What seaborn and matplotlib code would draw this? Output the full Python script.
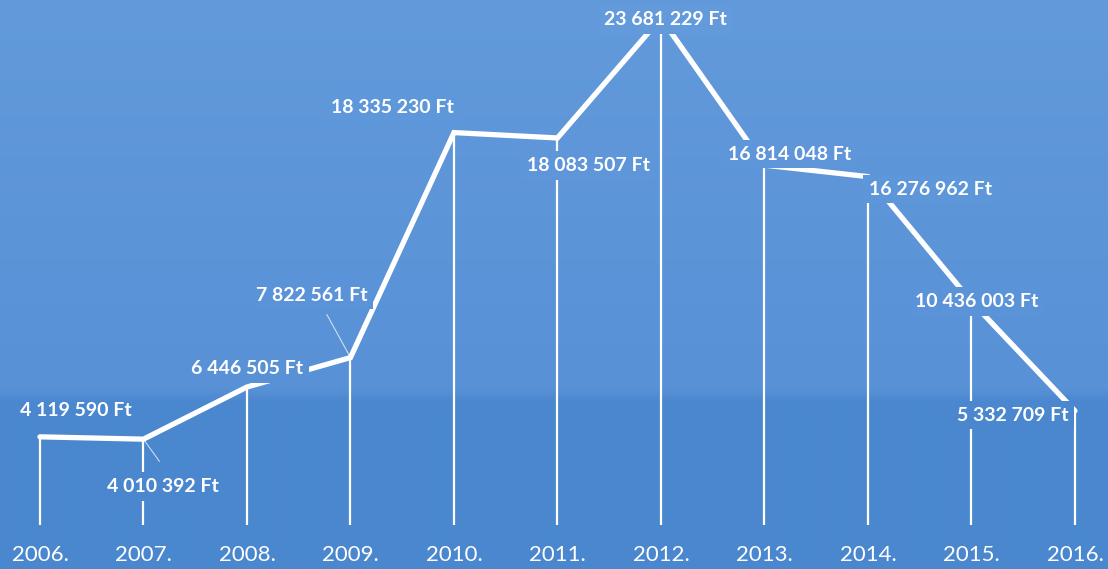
"""
Yearly amounts (Ft), 2006-2016 - white line on blue
"""

import numpy as np
import pandas as pd
import matplotlib
matplotlib.use('Agg')
import matplotlib.pyplot as plt
import seaborn as sns

# Data
years = [2006, 2007, 2008, 2009, 2010, 2011, 2012, 2013, 2014, 2015, 2016]
amounts = [4119590, 4010392, 6446505, 7822561, 18335230, 18083507,
           23681229, 16814048, 16276962, 10436003, 5332709]
year_labels = [f'{y}.' for y in years]
value_labels = [f'{v:,} Ft'.replace(',', ' ') for v in amounts]

df = pd.DataFrame({'year': years, 'amount': amounts})

sns.set_theme(style='white')
plt.rcParams['font.family'] = ['Lato', 'DejaVu Sans']

W, H = 1108, 569
fig = plt.figure(figsize=(W / 100, H / 100), dpi=100)

# background gradient (lighter on top, darker band at the bottom)
top_col = np.array([98, 154, 219]) / 255
mid_col = np.array([88, 145, 214]) / 255
bot_col = np.array([74, 135, 207]) / 255


def bg_color(py):
    # py: pixel row from top
    if py < 388:
        t = py / 388
        return top_col * (1 - t) + mid_col * t
    t = min((py - 388) / 15, 1)
    return mid_col * (1 - t) + bot_col * t


grad = np.array([bg_color(py) for py in range(H)])[:, None, :]
ax_bg = fig.add_axes([0, 0, 1, 1], zorder=0)
ax_bg.imshow(grad, aspect='auto', extent=[0, 1, 0, 1])
ax_bg.axis('off')

# main axes: zero baseline at ~525px, 21.4 px per million
bottom_px = 530
ax = fig.add_axes([0, (H - bottom_px) / H, 1, bottom_px / H], zorder=1)
ax.patch.set_alpha(0)
ax.set_xlim(2005.614, 2016.319)
ax.set_ylim(-0.234e6, 24.53e6)

# vertical drop lines
ax.vlines(df['year'], 0, df['amount'], color='white', lw=1.6, zorder=2)

# main line
sns.lineplot(data=df, x='year', y='amount', color='white', lw=3.8,
             ax=ax, zorder=3, solid_joinstyle='miter')

# labels: (dx, dy) offset in points from the data point
offsets = [(26, 19), (14, -34), (0, 13), (-28, 45), (-44, 18), (22, -20),
           (3, -1), (18, 8), (45, -9), (4, 0), (-45, -3)]
# thin leader lines: end point offset in points, None = no leader
leaders = [None, (11.5, -16), None, (-17, 31), None, None,
           None, None, None, None, None]

for i, (x, y) in enumerate(zip(years, amounts)):
    dx, dy = offsets[i]
    # pixel row of label, to pick matching background colour for the mask
    py = 525 - y / 1e6 * 21.4 - dy * 100 / 72
    fc = bg_color(int(np.clip(py, 0, H - 1)))
    box = None
    if i != 0:  # first label crosses nothing, leave it unmasked
        box = dict(boxstyle='square,pad=0.3', fc=fc, ec='none')
    ax.annotate(value_labels[i], (x, y), xytext=(dx, dy), textcoords='offset points',
                ha='center', va='center', color='white', fontsize=14,
                fontweight='bold', zorder=5, bbox=box)
    if leaders[i] is not None:
        ax.annotate('', (x, y), xytext=leaders[i], textcoords='offset points', zorder=6,
                    arrowprops=dict(arrowstyle='-', color='white', lw=0.8, alpha=0.7,
                                    shrinkA=0, shrinkB=0))

ax.set_xticks(years)
ax.set_xticklabels(year_labels, color='white', fontsize=16)
ax.tick_params(axis='x', length=0, pad=11)
ax.set_yticks([])
ax.set_xlabel('')
ax.set_ylabel('')
sns.despine(ax=ax, left=True, bottom=True)

fig.savefig('out.png', dpi=100)
plt.close(fig)
